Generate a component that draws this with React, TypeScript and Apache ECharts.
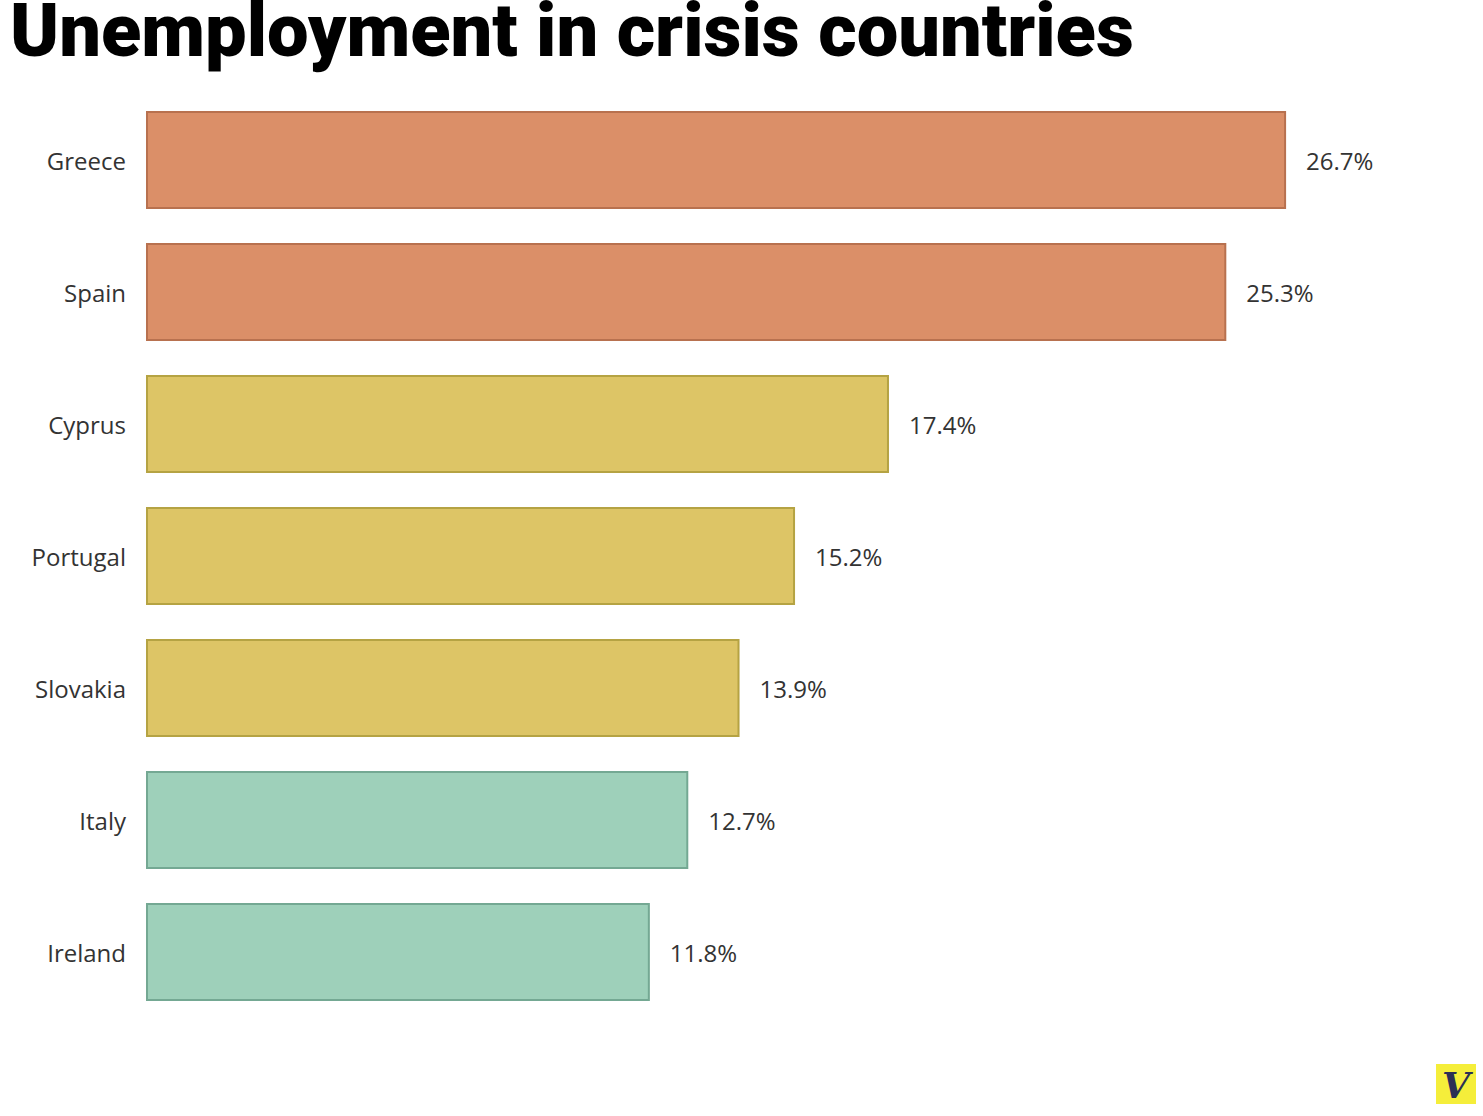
import React, { useEffect, useRef } from "react";
import * as echarts from "echarts";

const categories = ["Greece", "Spain", "Cyprus", "Portugal", "Slovakia", "Italy", "Ireland"];
const values = [26.7, 25.3, 17.4, 15.2, 13.9, 12.7, 11.8];
const fills = ["#DB8F68", "#DB8F68", "#DDC566", "#DDC566", "#DDC566", "#9ED0BA", "#9ED0BA"];
const borders = ["#B8714F", "#B8714F", "#B5A343", "#B5A343", "#B5A343", "#74A893", "#74A893"];
const titleText = "Unemployment in crisis countries";

export default function App() {
  const ref = useRef<HTMLDivElement>(null);
  useEffect(() => {
    const chart = echarts.init(ref.current!, null, { renderer: "svg" });
    chart.setOption({
      animation: false,
      backgroundColor: "#ffffff",
      title: {
        text: titleText,
        left: 10,
        top: 0,
        padding: 0,
        textStyle: {
          fontFamily: "Roboto",
          fontWeight: 900,
          fontSize: 74,
          lineHeight: 60,
          color: "#000000",
        },
      },
      grid: { left: 146, right: 56, top: 94, bottom: 98, containLabel: false },
      xAxis: {
        type: "value",
        min: 0,
        max: 30,
        show: false,
      },
      yAxis: {
        type: "category",
        data: categories,
        inverse: true,
        axisLine: { show: false },
        axisTick: { show: false },
        splitLine: { show: false },
        axisLabel: {
          margin: 20,
          fontFamily: "Open Sans",
          fontSize: 24,
          color: "#333333",
        },
      },
      series: [
        {
          type: "bar",
          barWidth: 98,
          data: values.map((v, i) => ({
            value: v,
            itemStyle: { color: fills[i], borderColor: borders[i], borderWidth: 2 },
          })),
          label: {
            show: true,
            position: "right",
            distance: 20,
            formatter: (p: any) => p.value.toFixed(1) + "%",
            fontFamily: "Open Sans",
            fontSize: 24,
            color: "#333333",
          },
        },
      ],
      graphic: [
        { type: "rect", shape: { x: 1436, y: 1064, width: 40, height: 40 }, style: { fill: "#F5EE3A" } },
        {
          type: "text",
          x: 1456,
          y: 1085,
          style: {
            text: "V",
            fontFamily: "DejaVu Serif",
            fontStyle: "italic",
            fontWeight: "bold",
            fontSize: 36,
            fill: "#2A2F55",
            align: "center",
            verticalAlign: "middle",
          },
        },
      ],
    });
    return () => chart.dispose();
  }, []);
  return <div ref={ref} style={{ position: "fixed", left: 0, top: 0, width: 1483, height: 1116 }} />;
}
